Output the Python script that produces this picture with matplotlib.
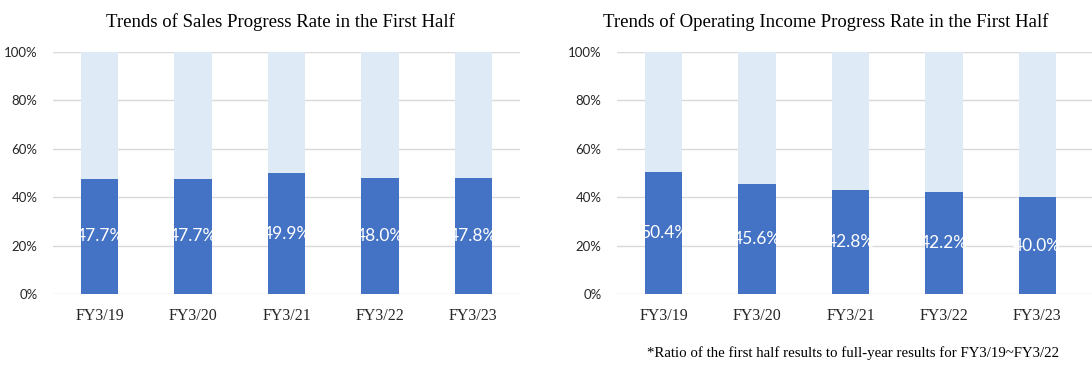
import numpy as np
import matplotlib.pyplot as plt
from matplotlib.ticker import PercentFormatter

# Data
years = ["FY3/19", "FY3/20", "FY3/21", "FY3/22", "FY3/23"]
sales_rate = [47.7, 47.7, 49.9, 48.0, 47.8]
income_rate = [50.4, 45.6, 42.8, 42.2, 40.0]
total = 100.0

dark_blue = "#4472C4"
light_blue = "#DEEAF6"
grid_gray = "#D9D9D9"

fig = plt.figure(figsize=(10.92, 3.75), dpi=100)

W, H = 1092, 375
ax1 = fig.add_axes([53 / W, (H - 294) / H, 467 / W, 242 / H])
ax2 = fig.add_axes([617 / W, (H - 294) / H, (W - 617) / W, 242 / H])


def draw_panel(ax, values, xmax):
    x = np.arange(len(years))
    vals = np.array(values)
    ax.bar(x, vals, width=0.4, color=dark_blue, zorder=3)
    ax.bar(x, total - vals, bottom=vals, width=0.4, color=light_blue, zorder=3)
    for xi, v in zip(x, vals):
        ax.text(xi, v / 2, f"{v:.1f}%", ha="center", va="center",
                color="white", fontsize=12.5, family="Lato", zorder=4)
    ax.set_xlim(-0.5, xmax)
    ax.set_ylim(0, 100)
    ax.set_yticks(np.arange(0, 101, 20))
    ax.yaxis.set_major_formatter(PercentFormatter(decimals=0))
    ax.set_xticks(x)
    ax.set_xticklabels(years, family="Liberation Serif", fontsize=11.5)
    for lab in ax.get_yticklabels():
        lab.set_family("Lato")
    ax.grid(axis="y", color=grid_gray, linewidth=1, zorder=0)
    ax.tick_params(axis="both", length=0)
    ax.tick_params(axis="x", pad=10, labelcolor="#262626")
    ax.tick_params(axis="y", pad=11, labelsize=9.5, labelcolor="#262626")
    for s in ax.spines.values():
        s.set_visible(False)
    ax.set_axisbelow(True)


draw_panel(ax1, sales_rate, 4.5)
draw_panel(ax2, income_rate, 4.5 + (W - 1084) / 93.4)

fig.text(280 / W, 1 - 22 / H, "Trends of Sales Progress Rate in the First Half",
         ha="center", va="center", family="Liberation Serif", fontsize=13.5)
fig.text(826 / W, 1 - 22 / H, "Trends of Operating Income Progress Rate in the First Half",
         ha="center", va="center", family="Liberation Serif", fontsize=13.5)
fig.text(1059 / W, 1 - 353 / H,
         "*Ratio of the first half results to full-year results for FY3/19~FY3/22",
         ha="right", va="center", family="Liberation Serif", fontsize=10.7)

fig.savefig("out.png", dpi=100)
